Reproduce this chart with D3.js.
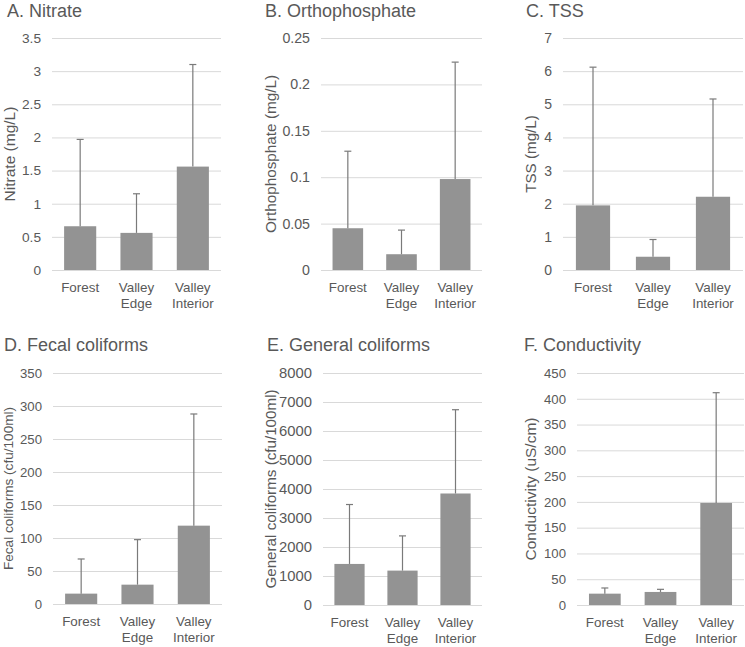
<!DOCTYPE html>
<html>
<head>
<meta charset="utf-8">
<script src="https://cdn.jsdelivr.net/npm/d3@7"></script>
<style>
  body { margin: 0; background: #fff; }
  text { font-family: "Liberation Sans", Arial, sans-serif; fill: #595959; }
</style>
</head>
<body>
<script>
// sites along the x axis, split into two lines like the original
var sites = ['Forest', 'Valley Edge', 'Valley Interior']
var siteLines = [['Forest'], ['Valley', 'Edge'], ['Valley', 'Interior']]

// means and upper error (sd) per panel
var nitrate = [0.66, 0.56, 1.56]
var nitrateErr = [1.31, 0.59, 1.54]
var ortho = [0.045, 0.017, 0.098]
var orthoErr = [0.083, 0.026, 0.126]
var tss = [1.95, 0.40, 2.21]
var tssErr = [4.17, 0.52, 2.95]
var fecal = [15.7, 29.3, 118.7]
var fecalErr = [52.5, 68.2, 169.2]
var general = [1416, 1186, 3845]
var generalErr = [2049, 1197, 2889]
var cond = [22, 25.3, 198]
var condErr = [11, 5.1, 213.8]

// y axis ticks
var nitrateTicks = [0, 0.5, 1, 1.5, 2, 2.5, 3, 3.5]
var orthoTicks = [0, 0.05, 0.1, 0.15, 0.2, 0.25]
var tssTicks = [0, 1, 2, 3, 4, 5, 6, 7]
var fecalTicks = [0, 50, 100, 150, 200, 250, 300, 350]
var generalTicks = [0, 1000, 2000, 3000, 4000, 5000, 6000, 7000, 8000]
var condTicks = [0, 50, 100, 150, 200, 250, 300, 350, 400, 450]

// each panel was a separate chart, so text sizes differ a little
var panels = [
  {title: 'A. Nitrate', ylab: 'Nitrate (mg/L)', vals: nitrate, err: nitrateErr, ticks: nitrateTicks,
   x0: 52, x1: 221, y0: 38, y1: 270, tx: 7, ty: 17, lx: 9, tickFs: 13.7, labFs: 15.5},
  {title: 'B. Orthophosphate', ylab: 'Orthophosphate (mg/L)', vals: ortho, err: orthoErr, ticks: orthoTicks,
   x0: 321, x1: 482, y0: 38, y1: 270, tx: 265, ty: 17, lx: 270, tickFs: 14.2, labFs: 15.3},
  {title: 'C. TSS', ylab: 'TSS (mg/L)', vals: tss, err: tssErr, ticks: tssTicks,
   x0: 563, x1: 743, y0: 38, y1: 270, tx: 526, ty: 17, lx: 530, tickFs: 14, labFs: 15.2},
  {title: 'D. Fecal coliforms', ylab: 'Fecal coliforms (cfu/100ml)', vals: fecal, err: fecalErr, ticks: fecalTicks,
   x0: 53, x1: 222, y0: 373, y1: 604, tx: 4, ty: 351, lx: 8, tickFs: 13.2, labFs: 13.6},
  {title: 'E. General coliforms', ylab: 'General coliforms (cfu/100ml)', vals: general, err: generalErr, ticks: generalTicks,
   x0: 323, x1: 482, y0: 373, y1: 605, tx: 267, ty: 351, lx: 270, tickFs: 14.8, labFs: 15.2},
  {title: 'F. Conductivity', ylab: 'Conductivity (uS/cm)', vals: cond, err: condErr, ticks: condTicks,
   x0: 577, x1: 744, y0: 373, y1: 605, tx: 524, ty: 351, lx: 530, tickFs: 13.2, labFs: 15.5}
]

var svg = d3.select('body')
  .append('svg')
  .attr('width', 745)
  .attr('height', 647)

panels.forEach(function(p) {
  var g = svg.append('g')

  var x = d3.scaleBand()
    .domain(sites)
    .range([p.x0, p.x1])
    .paddingInner(0.43)
    .paddingOuter(0.215)

  var y = d3.scaleLinear()
    .domain([0, p.ticks[p.ticks.length - 1]])
    .range([p.y1, p.y0])

  // gridlines + tick labels
  var yAxis = d3.axisLeft(y)
    .tickValues(p.ticks)
    .tickSize(-(p.x1 - p.x0))
    .tickPadding(11)
    .tickFormat(d3.format('~g'))

  var ya = g.append('g')
    .attr('transform', 'translate(' + p.x0 + ',0)')
    .call(yAxis)
  ya.select('.domain').remove()
  ya.selectAll('line').attr('stroke', '#d9d9d9').attr('stroke-width', 1)
  ya.selectAll('text')
    .style('font-size', p.tickFs + 'px')
    .attr('fill', '#595959')
    .style('font-family', '"Liberation Sans", Arial, sans-serif')

  // bars
  g.selectAll('.bar')
    .data(p.vals)
    .enter()
    .append('rect')
    .attr('x', function(d, i) { return x(sites[i]) })
    .attr('width', x.bandwidth())
    .attr('y', function(d) { return y(d) })
    .attr('height', function(d) { return y(0) - y(d) })
    .style('fill', '#939393')

  // error bars (plus only)
  var eb = g.selectAll('.err')
    .data(p.vals)
    .enter()
    .append('g')
    .style('stroke', '#7a7a7a')
    .style('stroke-width', '1.2px')

  eb.append('line')
    .attr('x1', function(d, i) { return x(sites[i]) + x.bandwidth() / 2 })
    .attr('x2', function(d, i) { return x(sites[i]) + x.bandwidth() / 2 })
    .attr('y1', function(d) { return y(d) })
    .attr('y2', function(d, i) { return y(d + p.err[i]) })

  eb.append('line')
    .attr('x1', function(d, i) { return x(sites[i]) + x.bandwidth() / 2 - 3.5 })
    .attr('x2', function(d, i) { return x(sites[i]) + x.bandwidth() / 2 + 3.5 })
    .attr('y1', function(d, i) { return y(d + p.err[i]) })
    .attr('y2', function(d, i) { return y(d + p.err[i]) })

  // category labels
  sites.forEach(function(s, i) {
    var t = g.append('text')
      .attr('text-anchor', 'middle')
      .style('font-size', '13.4px')
    siteLines[i].forEach(function(line, j) {
      t.append('tspan')
        .attr('x', x(s) + x.bandwidth() / 2)
        .attr('y', p.y1 + 22 + j * 16)
        .text(line)
    })
  })

  // y title
  g.append('text')
    .attr('transform', 'translate(' + p.lx + ',' + (p.y0 + p.y1) / 2 + ') rotate(-90)')
    .attr('text-anchor', 'middle')
    .attr('dominant-baseline', 'central')
    .style('font-size', p.labFs + 'px')
    .text(p.ylab)

  // panel title
  g.append('text')
    .attr('x', p.tx)
    .attr('y', p.ty)
    .style('font-size', '18px')
    .text(p.title)
})
</script>
</body>
</html>
